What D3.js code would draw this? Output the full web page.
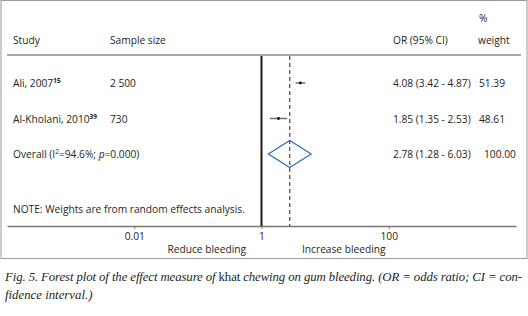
<!DOCTYPE html>
<html>
<head>
<meta charset="utf-8">
<script src="https://cdn.jsdelivr.net/npm/d3@7"></script>
<style>
  body { margin: 0; background: #fff; }
  svg text { font-family: "Open Sans", sans-serif; fill: #231f20; }
</style>
</head>
<body>
<svg id="chart"></svg>
<script>
// Data
const studies = ["Ali, 2007", "Al-Kholani, 2010"];
const refs = ["15", "39"];
const sampleSizes = ["2 500", "730"];
const orValues = [4.08, 1.85];
const ciLow = [3.42, 1.35];
const ciHigh = [4.87, 2.53];
const weights = ["51.39", "48.61"];
const overall = { or: 2.78, lo: 1.28, hi: 6.03, weight: "100.00" };
const tickValues = [0.01, 1, 100];
const tickLabels = ["0.01", "1", "100"];

const W = 528, H = 316;
const svg = d3.select("#chart").attr("width", W).attr("height", H);

// frame
svg.append("rect")
  .attr("x", 1).attr("y", 0.5).attr("width", 526).attr("height", 258)
  .attr("fill", "none").attr("stroke", "#9a9a9a").attr("stroke-width", 1);

// header
const head = svg.append("g").attr("font-size", 10.2);
head.append("text").attr("x", 13).attr("y", 44).text("Study");
head.append("text").attr("x", 110).attr("y", 44).text("Sample size");
head.append("text").attr("x", 393).attr("y", 44).text("OR (95% CI)");
head.append("text").attr("x", 479).attr("y", 22).text("%");
head.append("text").attr("x", 478).attr("y", 44).text("weight");

svg.append("line")
  .attr("x1", 7).attr("x2", 521).attr("y1", 55).attr("y2", 55)
  .attr("stroke", "#a8a8a8").attr("stroke-width", 2);

// scales
const x = d3.scaleLog().domain([1e-4, 1e4]).range([7, 516]);
const rowY = d3.scalePoint().domain([0, 1, 2]).range([83, 154]);
const axisY = 226, plotTop = 56;

// axis
const axis = svg.append("g")
  .attr("transform", `translate(0,${axisY})`)
  .call(d3.axisBottom(x).tickValues(tickValues)
    .tickFormat((d, i) => tickLabels[i]).tickSize(3).tickSizeOuter(0).tickPadding(4));
axis.select(".domain").attr("stroke", "#777").attr("stroke-width", 1.5);
axis.selectAll(".tick line").attr("stroke", "#777");
axis.selectAll(".tick text").attr("font-size", 10.2).attr("fill", "#231f20")
  .attr("font-family", "'Open Sans', sans-serif");

svg.append("text").attr("x", 246).attr("y", 253).attr("font-size", 10.2)
  .attr("text-anchor", "end").text("Reduce bleeding");
svg.append("text").attr("x", 302).attr("y", 253).attr("font-size", 10.2)
  .text("Increase bleeding");

// null line and overall dashed line
svg.append("line")
  .attr("x1", x(1)).attr("x2", x(1)).attr("y1", plotTop).attr("y2", axisY)
  .attr("stroke", "#1a1a1a").attr("stroke-width", 2);
svg.append("line")
  .attr("x1", x(overall.or)).attr("x2", x(overall.or)).attr("y1", plotTop).attr("y2", axisY)
  .attr("stroke", "#222").attr("stroke-width", 1).attr("stroke-dasharray", "4,3");

// study rows
const rows = svg.append("g").attr("font-size", 10.2);
studies.forEach((s, i) => {
  const y = rowY(i);
  const t = rows.append("text").attr("x", 13).attr("y", y + 4).text(s);
  t.append("tspan").attr("dy", -4).attr("font-size", 6.5).attr("font-weight", "bold").text(refs[i]);
  rows.append("text").attr("x", 110).attr("y", y + 4).text(sampleSizes[i]);
  rows.append("text").attr("x", 393).attr("y", y + 4)
    .text(`${orValues[i].toFixed(2)} (${ciLow[i].toFixed(2)} - ${ciHigh[i].toFixed(2)})`);
  rows.append("text").attr("x", 479).attr("y", y + 4).text(weights[i]);

  svg.append("line")
    .attr("x1", x(ciLow[i])).attr("x2", x(ciHigh[i])).attr("y1", y).attr("y2", y)
    .attr("stroke", "#6f6f6f").attr("stroke-width", 1.5);
  svg.append("circle").attr("cx", x(orValues[i])).attr("cy", y).attr("r", 1.4)
    .attr("fill", "#111");
});

// overall row
const yo = rowY(2);
const ot = rows.append("text").attr("x", 13).attr("y", yo + 4).text("Overall (I");
ot.append("tspan").attr("dy", -4).attr("font-size", 6.5).text("2");
ot.append("tspan").attr("dy", 4).text("=94.6%; ");
ot.append("tspan").attr("font-style", "italic").text("p");
ot.append("tspan").text("=0.000)");
rows.append("text").attr("x", 393).attr("y", yo + 4)
  .text(`${overall.or.toFixed(2)} (${overall.lo.toFixed(2)} - ${overall.hi.toFixed(2)})`);
rows.append("text").attr("x", 484).attr("y", yo + 4).text(overall.weight);

const dh = 13.5;
svg.append("path")
  .attr("d", d3.line()([
    [x(overall.lo), yo], [x(overall.or), yo - dh],
    [x(overall.hi), yo], [x(overall.or), yo + dh]
  ]) + "Z")
  .attr("fill", "none").attr("stroke", "#2a6db5").attr("stroke-width", 1.2);

rows.append("text").attr("x", 13).attr("y", 213)
  .text("NOTE: Weights are from random effects analysis.");

// caption
const cap = svg.append("g").attr("font-size", 12.8).attr("font-style", "italic");
const c1 = cap.append("text").attr("x", 5).attr("y", 281)
  .attr("textLength", 517).attr("lengthAdjust", "spacing")
  .style("font-family", "'Liberation Serif', serif");
c1.append("tspan").text("Fig. 5. Forest plot of the effect measure of ");
c1.append("tspan").attr("font-style", "normal").text("khat");
c1.append("tspan").text(" chewing on gum bleeding. (OR = odds ratio; CI = con-");
cap.append("text").attr("x", 5).attr("y", 299)
  .style("font-family", "'Liberation Serif', serif")
  .text("fidence interval.)");
</script>
</body>
</html>
